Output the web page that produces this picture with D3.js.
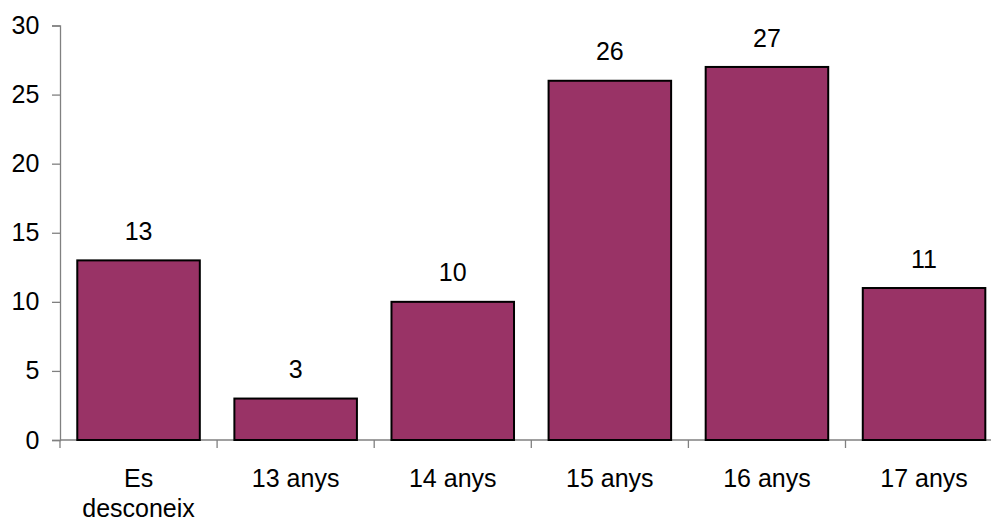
<!DOCTYPE html>
<html><head><meta charset="utf-8">
<script src="https://cdn.jsdelivr.net/npm/d3@7"></script>
<style>body{margin:0;background:#fff;overflow:hidden}text{font-family:"Liberation Sans",Arial,sans-serif}</style>
</head><body>
<svg id="c" width="991" height="520"></svg>
<script>
const categories = ["Es desconeix", "13 anys", "14 anys", "15 anys", "16 anys", "17 anys"];
const values = [13, 3, 10, 26, 27, 11];
const yTicks = [0, 5, 10, 15, 20, 25, 30];

const FS = 25;
const svg = d3.select("#c");
const x0 = 60, xEnd = 60 + 6 * 157.1, yTop = 25.5, yBot = 440;
const x = d3.scaleBand().domain(categories).range([x0, xEnd]).paddingInner(0.22).paddingOuter(0.11);
const y = d3.scaleLinear().domain([0, 30]).range([yBot, yTop]);

// y axis
const ya = svg.append("g").attr("transform", `translate(${x0},0)`)
  .call(d3.axisLeft(y).tickValues(yTicks).tickSize(8).tickPadding(12.7));
ya.select(".domain").attr("stroke", "#808080").attr("stroke-width", 1.3);
ya.selectAll(".tick line").attr("stroke", "#808080").attr("stroke-width", 1.3);
ya.selectAll(".tick text").attr("font-size", FS).attr("fill", "#000")
  .attr("font-family", "'Liberation Sans', Arial, sans-serif");

// x axis line and ticks at band boundaries
svg.append("line").attr("x1", x0).attr("x2", 991).attr("y1", yBot).attr("y2", yBot)
  .attr("stroke", "#808080").attr("stroke-width", 1.3);
const step = x.step();
d3.range(0, 7).forEach(i => {
  const xx = x0 + i * step;
  svg.append("line").attr("x1", xx).attr("x2", xx).attr("y1", yBot).attr("y2", yBot + 8)
    .attr("stroke", "#808080").attr("stroke-width", 1.3);
});

// bars
svg.selectAll("rect.bar").data(values).join("rect").attr("class", "bar")
  .attr("x", (d, i) => x(categories[i]))
  .attr("width", x.bandwidth())
  .attr("y", d => y(d))
  .attr("height", d => yBot - y(d))
  .attr("fill", "#993366").attr("stroke", "#000").attr("stroke-width", 2);

// value labels
svg.selectAll("text.val").data(values).join("text").attr("class", "val")
  .attr("x", (d, i) => x(categories[i]) + x.bandwidth() / 2)
  .attr("y", d => y(d) - 20.4)
  .attr("text-anchor", "middle").attr("font-size", FS).attr("fill", "#000")
  .text(d => d);

// category labels
categories.forEach((c, i) => {
  const cx = x(c) + x.bandwidth() / 2;
  const words = c === "Es desconeix" ? ["Es", "desconeix"] : [c];
  const t = svg.append("text").attr("x", cx).attr("y", 486.7)
    .attr("text-anchor", "middle").attr("font-size", FS).attr("fill", "#000");
  words.forEach((w, j) => t.append("tspan").attr("x", cx).attr("dy", j === 0 ? 0 : 30.5).text(w));
});
</script>
</body></html>
